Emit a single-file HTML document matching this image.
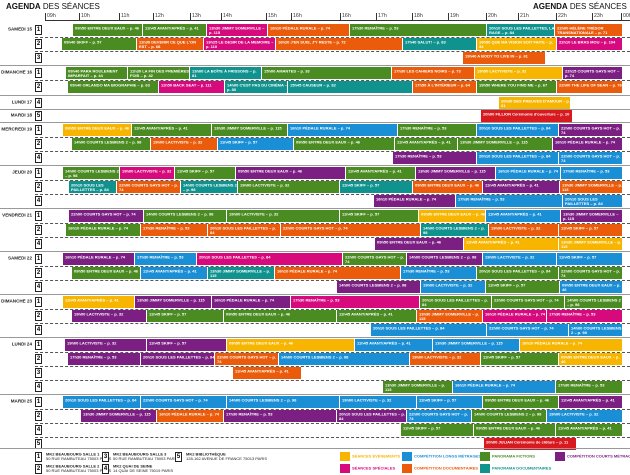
<!DOCTYPE html>
<html><head><meta charset="utf-8">
<style>
*{margin:0;padding:0;box-sizing:border-box}
body{width:630px;height:475px;background:#fff;position:relative;overflow:hidden;font-family:"Liberation Sans",sans-serif}
.a{position:absolute}
.b{position:absolute;height:12px;color:#fff;overflow:hidden}
.b span{position:absolute;left:2px;top:2px;font-size:8px;font-weight:bold;line-height:9px;transform:scale(.5);transform-origin:0 0;width:196%;white-space:normal}
.sm{position:absolute;font-size:8px;transform:scale(.5);transform-origin:0 0;white-space:nowrap}
.h{position:absolute;top:13px;font-size:7px;color:#333;transform:scale(.75);transform-origin:0 0}
.tk{position:absolute;top:13px;width:1px;height:8px;background:#333}
.day{position:absolute;width:50px;left:-18px;text-align:right;font-size:7px;font-weight:bold;color:#222;white-space:nowrap;transform:scale(.65);transform-origin:100% 0}
.nb{position:absolute;left:35px;width:7px;height:10px;border:1px solid #222;font-size:6px;font-weight:bold;text-align:center;line-height:8px;background:#fff}
.sep{position:absolute;left:0;width:630px;height:1px;background:#999}
.ds{position:absolute;left:35px;width:595px;border-top:1px dashed #555}
</style></head><body>
<div class="a" style="left:6px;top:2px;font-size:8px;color:#111"><b>AGENDA</b> DES SÉANCES</div>
<div class="a" style="left:533px;top:2px;font-size:8px;color:#111"><b>AGENDA</b> DES SÉANCES</div>
<div class="a" style="left:45px;top:20px;width:585px;height:1px;background:#333"></div>
<div id="c"></div>
<script>
var C={g:'#4a8b22',o:'#ea5b0c',m:'#d6097d',t:'#10938f',b:'#1b8fd6',p:'#7b1f83',y:'#f7b500',r:'#d71920'};
var H=[['09h',46],['10h',80],['11h',120],['12h',154],['13h',191],['14h',222],['15h',267],['16h',292],['16h',341],['17h',377],['18h',413],['19h',449],['20h',487],['21h',519],['22h',557],['23h',593],['00h',622]];
var s='';
H.forEach(function(h){s+='<div class="tk" style="left:'+(h[1]-1)+'px"></div><div class="h" style="left:'+(h[1]+1)+'px">'+h[0]+'</div>';});
var T=['09h50 ENTRE DEUX EAUX – p. 46','11h45 AVANT/APRÈS – p. 41','13h30 JIMMY SOMERVILLE – p. 115','16h10 PÉDALE RURALE – p. 74','17h30 RENAÎTRE – p. 53','20h10 SOUS LES PAILLETTES – p. 84','22h00 COURTS GAYS HOT – p. 74','14h00 COURTS LESBIENS 2 – p. 98','19h00 LACTIVISTE – p. 32','11h45 SKIFF – p. 57'];
var ti=0;
function bl(x1,x2,y,c,t){s+='<div class="b" style="left:'+x1+'px;top:'+y+'px;width:'+(x2-x1-1)+'px;background:'+C[c]+'"><span>'+(t||T[(ti++)%T.length])+'</span></div>';}
function row(y,arr){arr.forEach(function(a){bl(a[0],a[1],y,a[2],a[3]);});}
var D=[
['SAMEDI 15',[[1,24,[[73,143,'g','09h50 ENTRE DEUX EAUX – p. 46'],[143,207,'g','11h45 AVANT/APRÈS – p. 41'],[207,268,'m','13h30 JIMMY SOMERVILLE – p. 115'],[268,350,'o','16h10 PÉDALE RURALE – p. 74'],[350,487,'g','17h30 RENAÎTRE – p. 53'],[487,555,'t','20h10 SOUS LES PAILLETTES, LA RAGE – p. 84'],[555,623,'o','22h00 HÉLÈNE TRÉSOR TRANSNATIONALE – p. 71']]],
 [2,38,[[62,137,'g','09h40 SKIFF – p. 57'],[137,204,'o','11h30 DEVENIR CE QUE L\'ON EST – p. 68'],[204,276,'m','13h25 LE DESIR DE LA MEMOIRE – p. 110'],[276,403,'o','16h20 J\'EN SUIS, J\'Y RESTE – p. 72'],[403,477,'t','17h40 SALUT! – p. 83'],[477,557,'y','19h50 QUE MA VISION SOIT FAITE – p. 34'],[557,623,'m','22h10 LE BRAS MOU – p. 104']]],
 [3,52,[[463,546,'o','19h40 A BODY TO LIVE IN – p. 61']]]],65],
['DIMANCHE 16',[[1,67,[[66,128,'g','09h40 PARA ROULEMENT IMPARFAIT – p. 44'],[128,190,'g','11h30 LA FIN DES PREMIÈRES FOIS – p. 42'],[190,262,'t','13h00 LA BOÎTE À FRISSONS – p. 81'],[262,392,'g','15h00 AMANTES – p. 33'],[392,475,'o','17h30 LES CAHIERS NOIRS – p. 73'],[475,563,'y','19h50 LACTIVISTE – p. 32'],[563,623,'p','22h15 COURTS GAYS HOT – p. 74']]],
 [2,81,[[68,159,'g','09h40 ORLANDO MA BIOGRAPHIE – p. 63'],[159,225,'m','11h50 BACK SEAT – p. 111'],[225,288,'t','14h00 C\'EST PAS DU CINÉMA – p. 80'],[288,413,'t','15h45 CAUSEUR – p. 82'],[413,477,'o','17h50 À L\'INTÉRIEUR – p. 64'],[477,557,'g','19h50 WHERE YOU FIND ME – p. 67'],[557,623,'o','22h00 THE LIFE OF SEAN – p. 76']]]],95],
['LUNDI 17',[[4,97,[[499,571,'y','20h30 DES PREUVES D\'AMOUR – p. 31']]]],109],
['MARDI 18',[[5,110,[[481,573,'r','20h00 FILLION Cérémonie d\'ouverture – p. 10']]]],122],
['MERCREDI 19',[[1,124,[[63,132,'y'],[132,212,'g'],[212,288,'g'],[288,398,'b'],[398,477,'g'],[477,559,'b'],[559,623,'p']]],
 [2,138,[[72,151,'g'],[151,218,'o'],[218,294,'b'],[294,395,'g'],[395,458,'g'],[458,553,'g'],[553,623,'p']]],
 [4,152,[[393,477,'p'],[477,559,'b'],[559,623,'b']]]],165],
['JEUDI 20',[[1,167,[[63,120,'g'],[120,175,'m'],[175,236,'g'],[236,346,'p'],[346,416,'g'],[416,496,'p'],[496,561,'b'],[561,623,'b']]],
 [2,181,[[69,117,'t'],[117,181,'o'],[181,238,'t'],[238,340,'g'],[340,413,'t'],[413,483,'o'],[483,560,'p'],[560,623,'o']]],
 [4,195,[[374,456,'p'],[456,563,'b'],[563,623,'b']]]],208],
['VENDREDI 21',[[1,210,[[69,144,'p'],[144,227,'g'],[227,340,'g'],[340,419,'g'],[419,486,'y'],[486,561,'b'],[561,623,'p']]],
 [2,224,[[66,141,'g'],[141,208,'o'],[208,281,'o'],[281,421,'o'],[421,489,'t'],[489,559,'o'],[559,623,'o']]],
 [4,238,[[375,464,'p'],[464,559,'y'],[559,623,'y']]]],251],
['SAMEDI 22',[[1,253,[[63,135,'p'],[135,197,'b'],[197,343,'m'],[343,407,'g'],[407,483,'p'],[483,557,'b'],[557,623,'b']]],
 [2,267,[[72,141,'g'],[141,208,'b'],[208,275,'t'],[275,401,'o'],[401,477,'b'],[477,559,'g'],[559,623,'g']]],
 [4,281,[[337,421,'p'],[421,486,'b'],[486,560,'g'],[560,623,'b']]]],294],
['DIMANCHE 23',[[1,296,[[63,135,'y'],[135,212,'p'],[212,291,'p'],[291,420,'m'],[420,492,'g'],[492,565,'g'],[565,623,'g']]],
 [2,310,[[72,147,'p'],[147,224,'g'],[224,337,'g'],[337,417,'g'],[417,483,'o'],[483,547,'m'],[547,623,'m']]],
 [4,324,[[371,487,'b'],[487,569,'b'],[569,623,'b']]]],337],
['LUNDI 24',[[1,339,[[65,147,'p'],[147,227,'p'],[227,355,'y'],[355,433,'b'],[433,520,'b'],[520,623,'y']]],
 [2,353,[[68,141,'p'],[141,215,'p'],[215,279,'o'],[279,410,'b'],[410,481,'o'],[481,559,'g'],[559,623,'y']]],
 [3,367,[[233,302,'o']]],
 [4,381,[[383,453,'g'],[453,556,'b'],[556,623,'g']]]],394],
['MARDI 25',[[1,396,[[63,141,'b'],[141,227,'b'],[227,340,'b'],[340,417,'b'],[417,483,'b'],[483,559,'g'],[559,623,'p']]],
 [2,410,[[81,157,'p'],[157,224,'o'],[224,337,'p'],[337,407,'p'],[407,472,'b'],[472,547,'g'],[547,623,'b']]],
 [4,424,[[401,474,'g'],[474,556,'g'],[556,623,'g']]],
 [5,438,[[484,577,'r','20h00 JULIAN Cérémonie de clôture – p. 11']]]],448]
];
D.forEach(function(d){
 var rows=d[1];
 s+='<div class="day" style="top:'+(rows[0][1]+3)+'px">'+d[0]+'</div>';
 rows.forEach(function(r,i){
  s+='<div class="nb" style="top:'+(r[1]+1)+'px">'+r[0]+'</div>';
  row(r[1],r[2]);
  if(i<rows.length-1) s+='<div class="ds" style="top:'+(r[1]+13)+'px"></div>';
 });
 s+='<div class="sep" style="top:'+d[2]+'px"></div>';
});
function lb(x,y,n,t1,t2){s+='<div class="nb" style="left:'+x+'px;top:'+y+'px">'+n+'</div><div class="sm" style="left:'+(x+11)+'px;top:'+y+'px;color:#222;line-height:9px"><b>'+t1+'</b><br>'+t2+'</div>';}
lb(35,452,1,'MK2 BEAUBOURG SALLE 1','50 RUE RAMBUTEAU 75003 PARIS');
lb(35,464,2,'MK2 BEAUBOURG SALLE 2','50 RUE RAMBUTEAU 75003 PARIS');
lb(102,452,3,'MK2 BEAUBOURG SALLE 3','50 RUE RAMBUTEAU 75003 PARIS');
lb(102,464,4,'MK2 QUAI DE SEINE','14 QUAI DE SEINE 75019 PARIS');
lb(175,452,5,'MK2 BIBLIOTHÈQUE','128-162 AVENUE DE FRANCE 75013 PARIS');
function sw(x,y,c,t){s+='<div class="a" style="left:'+x+'px;top:'+y+'px;width:10px;height:9px;background:'+C[c]+'"></div><div class="sm" style="left:'+(x+12)+'px;top:'+(y+2)+'px;font-weight:bold;color:'+C[c]+'">'+t+'</div>';}
sw(340,452,'y','SÉANCES ÉVÉNEMENTS');sw(402,452,'b','COMPÉTITION LONGS MÉTRAGES');sw(480,452,'g','PANORAMA FICTIONS');sw(555,452,'p','COMPÉTITION COURTS MÉTRAGES');
sw(340,464,'m','SÉANCES SPÉCIALES');sw(402,464,'o','COMPÉTITION DOCUMENTAIRES');sw(480,464,'t','PANORAMA DOCUMENTAIRES');
document.getElementById('c').innerHTML=s;
</script>
</body></html>
